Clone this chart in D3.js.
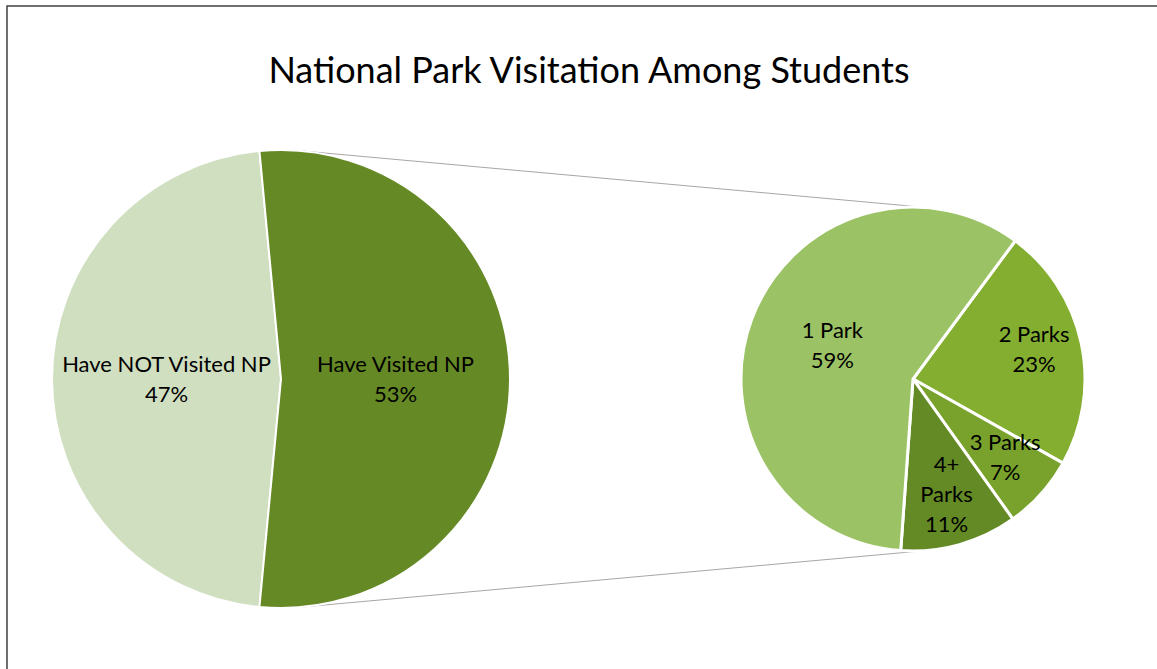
<!DOCTYPE html>
<html>
<head>
<meta charset="utf-8">
<script src="https://cdn.jsdelivr.net/npm/d3@7"></script>
<style>
  body { margin: 0; background: #fff; }
  svg { display: block; }
</style>
</head>
<body>
<script>
// main pie
var mainLabels = ['Have NOT Visited NP', 'Have Visited NP']
var mainValues = [47, 53]
var mainColors = ['#d0dfc0', '#658925']

// breakdown of the visited slice
var subLabels = [['2 Parks'], ['3 Parks'], ['4+', 'Parks'], ['1 Park']]
var subValues = [23, 7, 11, 59]
var subColors = ['#83ae30', '#78a22b', '#648a26', '#9bc264']

var title = 'National Park Visitation Among Students'

var width = 1157, height = 669
var svg = d3.select('body').append('svg').attr('width', width).attr('height', height)

// outer frame
svg.append('rect').attr('x', 7).attr('y', 6).attr('width', width + 10).attr('height', height + 10)
  .attr('fill', '#fff').attr('stroke', '#404040').attr('stroke-width', 1.5)

var font = 'Lato, "Open Sans", sans-serif'
var labelSize = 22, lineH = 30

svg.append('text').text(title)
  .attr('x', 589).attr('y', 83)
  .attr('text-anchor', 'middle')
  .attr('font-family', font).attr('font-size', 36)
  .attr('fill', '#000')

var left = {cx: 281, cy: 379, r: 229}
var right = {cx: 913, cy: 379, r: 172}

// connector lines: outer tangents between the two pies
var d = right.cx - left.cx
var alpha = Math.asin((left.r - right.r) / d)
;[-1, 1].forEach(function(s) {
  svg.append('line')
    .attr('x1', left.cx + left.r * Math.sin(alpha)).attr('y1', left.cy + s * left.r * Math.cos(alpha))
    .attr('x2', right.cx + right.r * Math.sin(alpha)).attr('y2', right.cy + s * right.r * Math.cos(alpha))
    .attr('stroke', '#a6a6a6').attr('stroke-width', 1)
})

function addLines(t, lines) {
  lines.forEach(function(l, j) {
    t.append('tspan').attr('x', 0)
      .attr('y', (j - (lines.length - 1) / 2) * lineH + labelSize * 0.35)
      .text(l)
  })
}

// left pie: visited slice centred on the right side
var visitedSpan = mainValues[1] / d3.sum(mainValues) * 2 * Math.PI
var startLeft = Math.PI / 2 + visitedSpan / 2
var pieLeft = d3.pie().sort(null).startAngle(startLeft).endAngle(startLeft + 2 * Math.PI)
var arcsLeft = pieLeft(mainValues)
var arcL = d3.arc().innerRadius(0).outerRadius(left.r)

var gL = svg.append('g').attr('transform', `translate(${left.cx},${left.cy})`)
gL.selectAll('path').data(arcsLeft).enter().append('path')
  .attr('d', arcL)
  .attr('fill', function(d, i) { return mainColors[i] })
  .attr('stroke', '#fff').attr('stroke-width', 2)

var total = d3.sum(mainValues)
gL.selectAll('text').data(arcsLeft).enter().append('text')
  .attr('text-anchor', 'middle')
  .attr('font-family', font).attr('font-size', labelSize).attr('fill', '#000')
  .attr('transform', function(d) {
    var c = arcL.centroid(d)
    return `translate(${c[0]},${c[1]})`
  })
  .each(function(d, i) {
    addLines(d3.select(this), [mainLabels[i], Math.round(d.value / total * 100) + '%'])
  })

// right pie
var startRight = 36.5 / 180 * Math.PI
var pieRight = d3.pie().sort(null).startAngle(startRight).endAngle(startRight + 2 * Math.PI)
var arcsRight = pieRight(subValues)
var arcR = d3.arc().innerRadius(0).outerRadius(right.r)

var gR = svg.append('g').attr('transform', `translate(${right.cx},${right.cy})`)
gR.selectAll('path').data(arcsRight).enter().append('path')
  .attr('d', arcR)
  .attr('fill', function(d, i) { return subColors[i] })
  .attr('stroke', '#fff').attr('stroke-width', 3)

var subTotal = d3.sum(subValues)
gR.selectAll('text').data(arcsRight).enter().append('text')
  .attr('text-anchor', 'middle')
  .attr('font-family', font).attr('font-size', labelSize).attr('fill', '#000')
  .attr('transform', function(d) {
    // small slices get their labels pushed out a bit
    var k = d.value / subTotal > 0.5 ? 0.5 : 0.72
    var a = (d.startAngle + d.endAngle) / 2
    return `translate(${Math.sin(a) * right.r * k},${-Math.cos(a) * right.r * k - 4})`
  })
  .each(function(d, i) {
    addLines(d3.select(this), subLabels[i].concat([Math.round(d.value / subTotal * 100) + '%']))
  })
</script>
</body>
</html>
